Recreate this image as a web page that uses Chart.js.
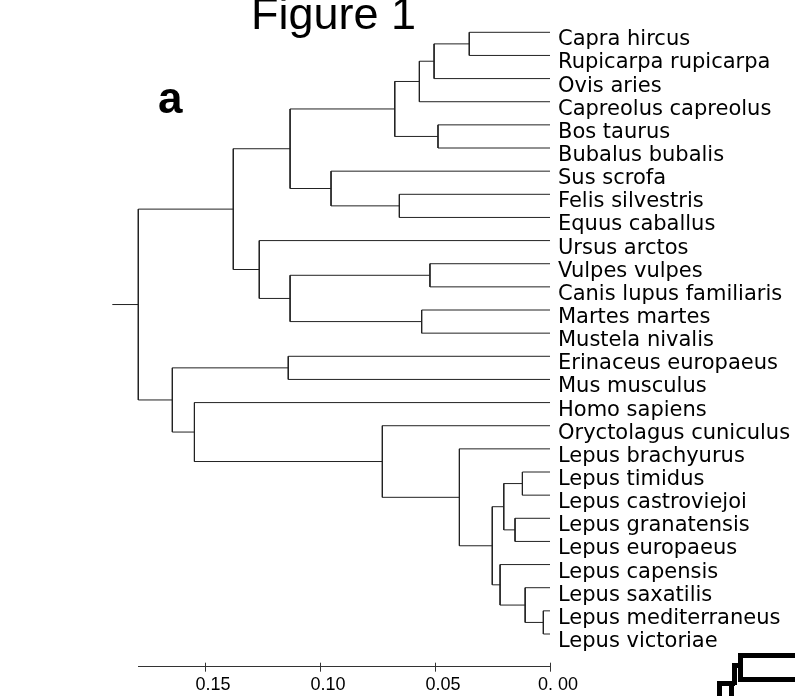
<!DOCTYPE html>
<html><head><meta charset="utf-8">
<script src="https://cdn.jsdelivr.net/npm/chart.js@4.4.1/dist/chart.umd.min.js"></script>
<style>
html,body{margin:0;padding:0;background:#fff;overflow:hidden}
#wrap{position:relative;width:795px;height:696px;overflow:hidden;background:#fff}
#c{position:absolute;left:0;top:0}
.t{position:absolute;font-family:"Liberation Sans",Arial,sans-serif;color:#000;white-space:nowrap;line-height:1}
.k{position:absolute;background:#000}
</style></head><body>
<div id="wrap">
<canvas id="c" width="795" height="696"></canvas>
<div class="t" style="left:251px;top:-9px;font-size:45px">Figure 1</div>
<div class="t" style="left:158px;top:76px;font-size:44px;font-weight:bold">a</div>
<div class="k" style="left:740px;top:653px;width:55px;height:5px"></div>
<div class="k" style="left:738px;top:653px;width:5px;height:29px"></div>
<div class="k" style="left:738px;top:677px;width:57px;height:5px"></div>
<div class="k" style="left:732px;top:663px;width:9px;height:5px"></div>
<div class="k" style="left:732px;top:663px;width:5px;height:22px"></div>
<div class="k" style="left:717px;top:681px;width:18px;height:5px"></div>
<div class="k" style="left:717px;top:681px;width:5px;height:15px"></div>
<div class="k" style="left:729px;top:681px;width:5px;height:15px"></div>
</div>
<script>
const leafNames = [
  "Capra hircus","Rupicarpa rupicarpa","Ovis aries","Capreolus capreolus","Bos taurus",
  "Bubalus bubalis","Sus scrofa","Felis silvestris","Equus caballus","Ursus arctos",
  "Vulpes vulpes","Canis lupus familiaris","Martes martes","Mustela nivalis",
  "Erinaceus europaeus","Mus musculus","Homo sapiens","Oryctolagus cuniculus",
  "Lepus brachyurus","Lepus timidus","Lepus castroviejoi","Lepus granatensis",
  "Lepus europaeus","Lepus capensis","Lepus saxatilis","Lepus mediterraneus","Lepus victoriae"
];
// hclust-style merges: negative = leaf (1-based), positive = earlier merge (1-based)
const mergeLeft  = [-1, 1, 2, -5, 3, -8, -7, 5, -11, -13, 9, -10, 8, -15, -20, -22, 15, -26, -25, -24, 17, -19, -18, -17, 14, 13];
const mergeRight = [-2, -3, -4, -6, 4, -9, 6, 7, -12, -14, 10, 11, 12, -16, -21, -23, 16, -27, 18, 19, 20, 21, 22, 23, 24, 25];
const mergeHeight = [0.0351, 0.0504, 0.0568, 0.0487, 0.0675, 0.0655, 0.0952, 0.1130, 0.0522, 0.0558,
  0.1130, 0.1264, 0.1377, 0.1138, 0.0120, 0.0152, 0.0201, 0.0029, 0.0108, 0.0217,
  0.0251, 0.0394, 0.0729, 0.1546, 0.1642, 0.1790];
const rootStub = 0.0113;
const xTickValues = [0, 0.05, 0.10, 0.15];
const xTickLabels = ["0. 00", "0.05", "0.10", "0.15"];

const nodes = [];
const datasets = [];
const lineStyle = {showLine:true, borderColor:'#222', borderWidth:1, pointRadius:0, pointHoverRadius:0, clip:false, tension:0};
function pos(id){ return id < 0 ? {x:0, y:-id-1} : nodes[id-1]; }
for (let i = 0; i < mergeHeight.length; i++) {
  const a = pos(mergeLeft[i]), b = pos(mergeRight[i]), h = mergeHeight[i];
  nodes.push({x:h, y:(a.y+b.y)/2});
  datasets.push(Object.assign({data:[{x:a.x,y:a.y},{x:h,y:a.y},{x:h,y:b.y},{x:b.x,y:b.y}]}, lineStyle));
}
const root = nodes[nodes.length-1];
datasets.push(Object.assign({data:[{x:root.x,y:root.y},{x:root.x+rootStub,y:root.y}]}, lineStyle));

const tickMarks = {
  id:'tickMarks',
  afterDraw(chart){
    const s = chart.scales.x, ctx = chart.ctx, b = chart.chartArea.bottom;
    ctx.save(); ctx.strokeStyle = '#333'; ctx.lineWidth = 1;
    s.ticks.forEach(t => {
      const px = Math.round(s.getPixelForValue(t.value)) + 0.5;
      ctx.beginPath(); ctx.moveTo(px, b-4); ctx.lineTo(px, b+5); ctx.stroke();
    });
    ctx.restore();
  }
};

new Chart(document.getElementById('c'), {
  type:'scatter',
  data:{datasets},
  plugins:[tickMarks],
  options:{
    responsive:false, animation:false, devicePixelRatio:1,
    layout:{padding:{left:138.3, top:9, right:0, bottom:0}},
    plugins:{legend:{display:false}, tooltip:{enabled:false}, title:{display:false}},
    scales:{
      x:{
        type:'linear', position:'bottom', reverse:true, min:0, max:0.179,
        afterBuildTicks:s => { s.ticks = xTickValues.map(v => ({value:v})); },
        afterFit:s => { s.height = 29.3; s.paddingLeft = 0; s.paddingRight = 0; },
        ticks:{callback:(v,i) => xTickLabels[i], autoSkip:false, maxRotation:0, color:'#000',
               font:{family:'Liberation Sans', size:18}, padding:8, labelOffset:8},
        grid:{display:true, drawOnChartArea:false, drawTicks:false},
        border:{display:true, color:'#333', width:1}
      },
      y:{
        type:'linear', position:'right', reverse:true, min:-1.007, max:27.413,
        afterBuildTicks:s => { s.ticks = leafNames.map((_,i) => ({value:i})); },
        afterFit:s => { s.width = 245; s.paddingTop = 0; s.paddingBottom = 0; },
        ticks:{callback:(v,i) => leafNames[i], autoSkip:false, color:'#000',
               font:{family:'DejaVu Sans', size:21}, padding:8, labelOffset:7.5, crossAlign:'near'},
        grid:{display:false, drawTicks:false},
        border:{display:false}
      }
    }
  }
});
</script>
</body></html>
